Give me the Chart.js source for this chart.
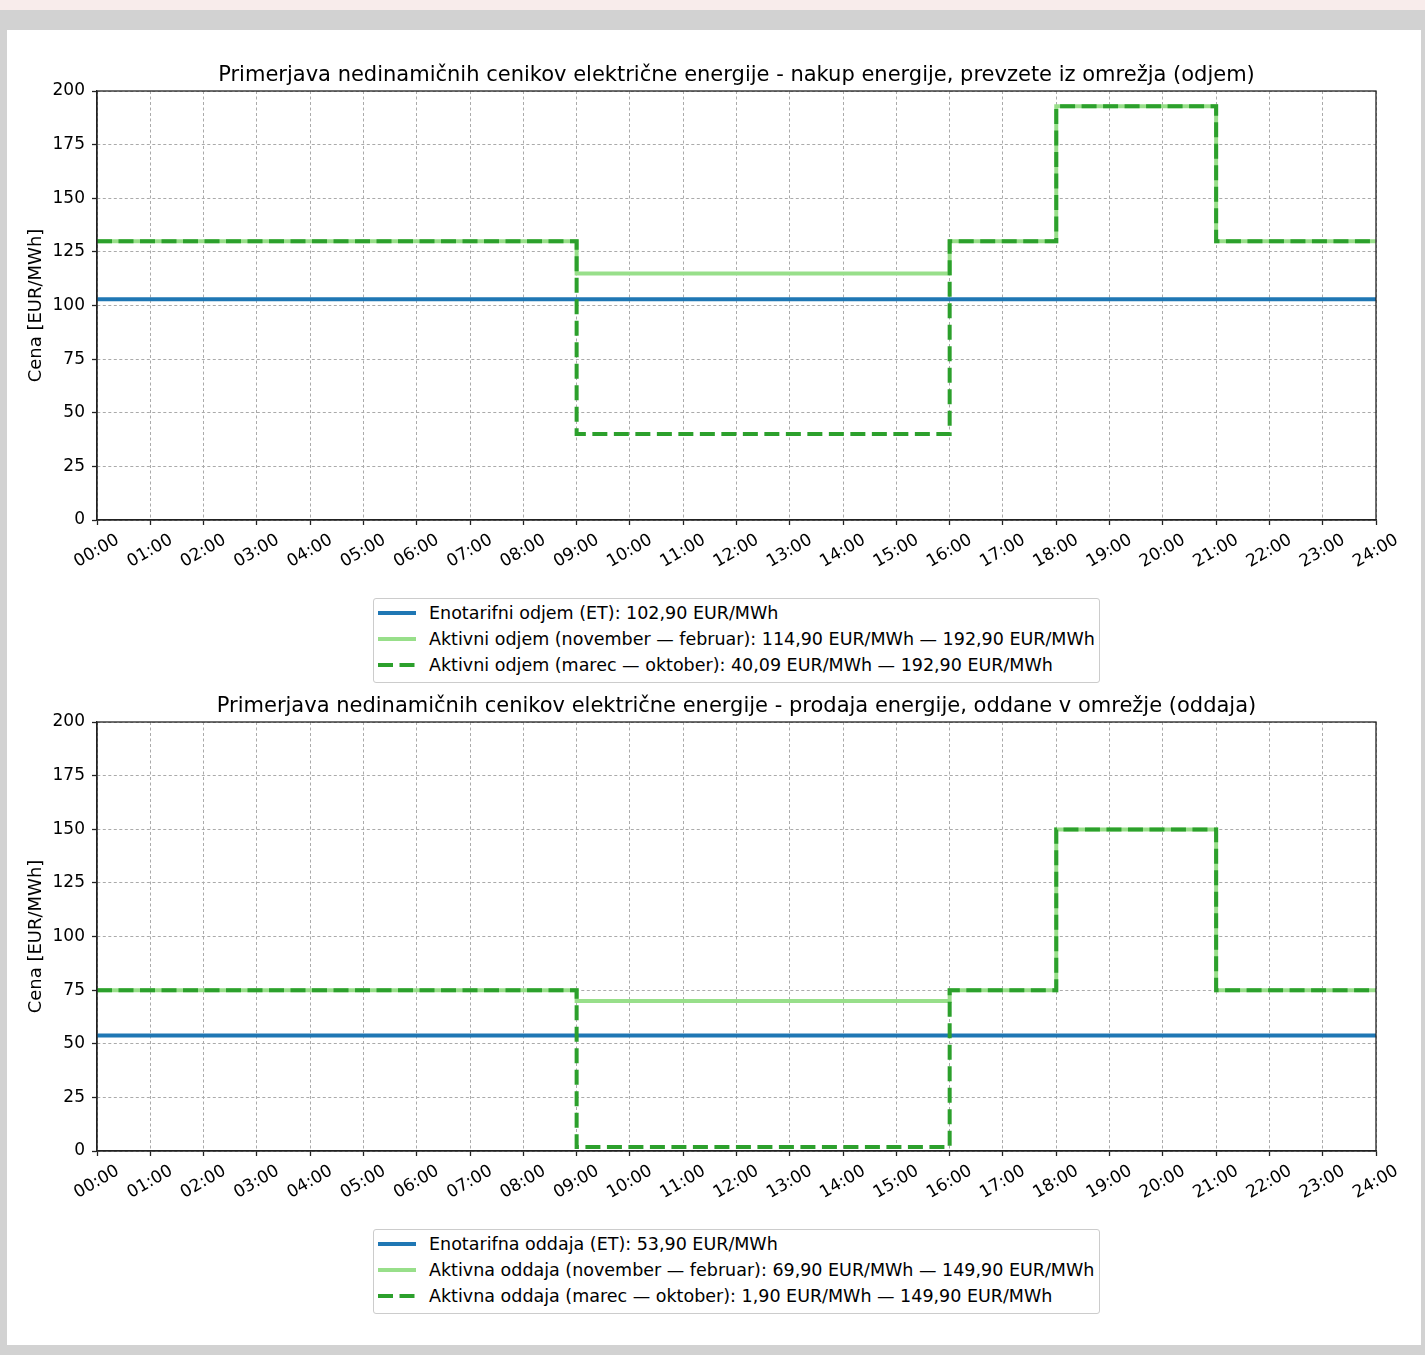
<!DOCTYPE html>
<html>
<head>
<meta charset="utf-8">
<script src="https://cdn.jsdelivr.net/npm/chart.js@4.4.0/dist/chart.umd.min.js"></script>
<style>
  body { margin: 0; background: #d2d2d2; width: 1425px; height: 1355px; position: relative; overflow: hidden; font-family: "DejaVu Sans", sans-serif; }
  #strip { position: absolute; left: 0; top: 0; width: 1425px; height: 10px; background: #f8eceb; }
  #panel { position: absolute; left: 7px; top: 30px; width: 1414px; height: 1315px; background: #fff; }
  .wrap { position: absolute; left: 7px; width: 1414px; height: 560px; }
  .legend { position: absolute; left: 373px; width: 725px; padding: 1px 0 4px 0; border: 1px solid #cccccc; border-radius: 3px; background: #fff; font-size: 17.5px; color: #000; }
  .legend .row { height: 26px; display: flex; align-items: center; white-space: nowrap; }
  .legend svg { margin-left: 4px; margin-right: 13px; flex: none; }
</style>
</head>
<body>
<div id="strip"></div>
<div id="panel"></div>
<div class="wrap" style="top:30px"><canvas id="odjemChart"></canvas></div>
<div class="legend" id="odjemLegend" style="top:598px"></div>
<div class="wrap" style="top:661px"><canvas id="oddajaChart"></canvas></div>
<div class="legend" id="oddajaLegend" style="top:1229px"></div>

<script>
// ===== Data =====
const hours = [0, 9, 16, 18, 21, 24];

const odjemET     = [102.9, 102.9, 102.9, 102.9, 102.9, 102.9];
const odjemWinter = [129.9, 114.9, 129.9, 192.9, 129.9, 129.9];
const odjemSummer = [129.9, 40.09, 129.9, 192.9, 129.9, 129.9];

const oddajaET     = [53.9, 53.9, 53.9, 53.9, 53.9, 53.9];
const oddajaWinter = [74.9, 69.9, 74.9, 149.9, 74.9, 74.9];
const oddajaSummer = [74.9, 1.9, 74.9, 149.9, 74.9, 74.9];

const odjemLabels = [
  "Enotarifni odjem (ET): 102,90 EUR/MWh",
  "Aktivni odjem (november — februar): 114,90 EUR/MWh — 192,90 EUR/MWh",
  "Aktivni odjem (marec — oktober): 40,09 EUR/MWh — 192,90 EUR/MWh"
];
const oddajaLabels = [
  "Enotarifna oddaja (ET): 53,90 EUR/MWh",
  "Aktivna oddaja (november — februar): 69,90 EUR/MWh — 149,90 EUR/MWh",
  "Aktivna oddaja (marec — oktober): 1,90 EUR/MWh — 149,90 EUR/MWh"
];

const odjemTitle = "Primerjava nedinamičnih cenikov električne energije - nakup energije, prevzete iz omrežja (odjem)";
const oddajaTitle = "Primerjava nedinamičnih cenikov električne energije - prodaja energije, oddane v omrežje (oddaja)";

const yTicks = [0, 25, 50, 75, 100, 125, 150, 175, 200];

// ===== Styles =====
const FONT = "'DejaVu Sans', sans-serif";
const BLUE = "#1f77b4";
const LIGHT_GREEN = "#98df8a";
const GREEN = "#2ca02c";
const DASH = [15, 6.5];

function toPoints(values) {
  return hours.map((h, i) => ({ x: h, y: values[i] }));
}

// frame around plot area (matplotlib spines)
const framePlugin = {
  id: "frame",
  afterDatasetsDraw(chart) {
    const { ctx, chartArea: a } = chart;
    ctx.save();
    ctx.strokeStyle = "#222";
    ctx.lineWidth = 1.3;
    ctx.setLineDash([]);
    ctx.strokeRect(a.left, a.top, a.right - a.left, a.bottom - a.top);
    ctx.restore();
  }
};

function pad2(v) {
  return String(v).padStart(2, "0") + ":00";
}

function makeChart(canvasId, legendId, title, labels, et, winter, summer) {
  const ctx = document.getElementById(canvasId).getContext("2d");
  const chart = new Chart(ctx, {
    type: "line",
    data: {
      datasets: [
        { label: labels[0], data: toPoints(et), borderColor: BLUE, borderWidth: 4, stepped: "before", pointRadius: 0, order: 3 },
        { label: labels[1], data: toPoints(winter), borderColor: LIGHT_GREEN, borderWidth: 4, stepped: "before", pointRadius: 0, order: 2 },
        { label: labels[2], data: toPoints(summer), borderColor: GREEN, borderWidth: 4, borderDash: DASH, stepped: "before", pointRadius: 0, order: 1 }
      ]
    },
    options: {
      responsive: true,
      maintainAspectRatio: false,
      animation: false,
      layout: { padding: { left: 0, right: 45, top: 0, bottom: 0 } },
      plugins: {
        legend: { display: false },
        tooltip: { enabled: false },
        title: {
          display: true,
          text: title,
          fullSize: false,
          color: "#000",
          font: { family: FONT, size: 21, weight: "normal" },
          padding: { top: 33, bottom: 2.8 }
        }
      },
      scales: {
        x: {
          type: "linear",
          min: 0,
          max: 24,
          afterFit: s => { s.height = 70; },
          ticks: {
            stepSize: 1,
            autoSkip: false,
            minRotation: 30,
            maxRotation: 30,
            labelOffset: 21,
            padding: 5,
            color: "#000",
            font: { family: FONT, size: 17 },
            callback: v => pad2(v)
          },
          grid: { color: "#aaaaaa", lineWidth: 1, tickLength: 5, tickColor: "#222", tickWidth: 1.3, tickBorderDash: [] },
          border: { display: true, color: "#222", width: 1.3, dash: [3, 2.5] }
        },
        y: {
          min: 0,
          max: 200,
          afterFit: s => { s.width = 90; },
          afterBuildTicks: s => { s.ticks = yTicks.map(v => ({ value: v })); },
          title: {
            display: true,
            text: "Cena [EUR/MWh]",
            color: "#000",
            font: { family: FONT, size: 18 },
            padding: { top: 19, bottom: 0 }
          },
          ticks: { color: "#000", padding: 7, font: { family: FONT, size: 17 } },
          grid: { color: "#aaaaaa", lineWidth: 1, tickLength: 5, tickColor: "#222", tickWidth: 1.3, tickBorderDash: [] },
          border: { display: true, color: "#222", width: 1.3, dash: [3, 2.5] }
        }
      }
    },
    plugins: [framePlugin]
  });
  renderLegend(legendId, chart);
  return chart;
}

// ===== HTML legend (matplotlib style box) =====
function renderLegend(legendId, chart) {
  const box = document.getElementById(legendId);
  box.innerHTML = "";
  chart.data.datasets.forEach(ds => {
    const row = document.createElement("div");
    row.className = "row";
    const dash = ds.borderDash ? `stroke-dasharray="${ds.borderDash.join(" ")}"` : "";
    row.innerHTML = `
      <svg width="38" height="10"><line x1="0" y1="5" x2="38" y2="5" stroke="${ds.borderColor}" stroke-width="4" ${dash}/></svg>
      <span>${ds.label}</span>`;
    box.appendChild(row);
  });
}

makeChart("odjemChart", "odjemLegend", odjemTitle, odjemLabels, odjemET, odjemWinter, odjemSummer);
makeChart("oddajaChart", "oddajaLegend", oddajaTitle, oddajaLabels, oddajaET, oddajaWinter, oddajaSummer);
</script>
</body>
</html>
